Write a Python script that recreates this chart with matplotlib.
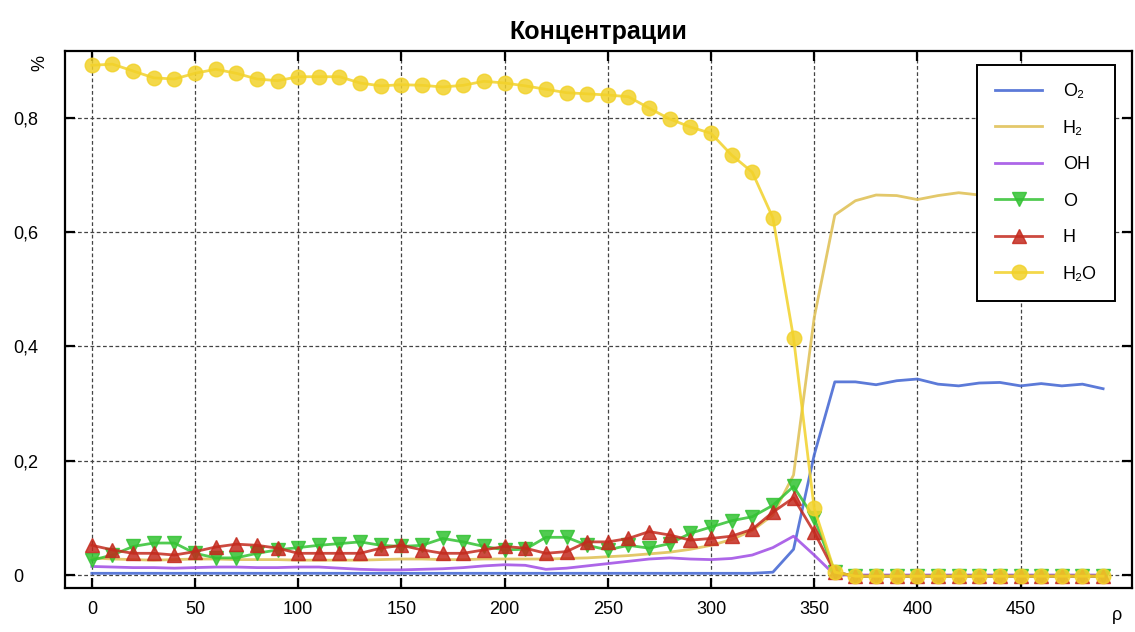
import matplotlib
matplotlib.use('Agg')
import matplotlib.pyplot as plt
from matplotlib.ticker import FixedLocator

plt.rcParams['font.family'] = ['Liberation Sans', 'DejaVu Sans']

# ── данные ────────────────────────────────────────────
rho = list(range(0, 500, 10))

o2 = [0.003] * 33 + [0.005, 0.045, 0.21, 0.338, 0.338, 0.333, 0.340, 0.343,
                     0.334, 0.331, 0.336, 0.337, 0.331, 0.335, 0.331, 0.334, 0.326]

h2 = [0.030, 0.028, 0.027, 0.026, 0.027, 0.028, 0.028, 0.027, 0.027, 0.027,
      0.026, 0.026, 0.026, 0.026, 0.027, 0.028, 0.028, 0.027, 0.027, 0.028,
      0.028, 0.028, 0.028, 0.029, 0.030, 0.032, 0.034, 0.037, 0.040, 0.045,
      0.052, 0.062, 0.078, 0.105, 0.175, 0.450, 0.630, 0.655, 0.665, 0.664,
      0.657, 0.664, 0.669, 0.665, 0.662, 0.665, 0.660, 0.662, 0.664, 0.660]

oh = [0.015, 0.014, 0.013, 0.013, 0.012, 0.013, 0.014, 0.014, 0.013, 0.013,
      0.014, 0.014, 0.012, 0.010, 0.009, 0.009, 0.010, 0.011, 0.013, 0.016,
      0.018, 0.017, 0.010, 0.012, 0.016, 0.020, 0.024, 0.028, 0.030, 0.028,
      0.027, 0.029, 0.035, 0.048, 0.068, 0.035, 0.000] + [0.0] * 13

o = [0.026, 0.035, 0.050, 0.056, 0.056, 0.038, 0.030, 0.030, 0.038, 0.044,
     0.048, 0.052, 0.055, 0.058, 0.052, 0.050, 0.052, 0.064, 0.058, 0.050,
     0.044, 0.045, 0.066, 0.066, 0.052, 0.044, 0.052, 0.047, 0.055, 0.073,
     0.084, 0.095, 0.102, 0.122, 0.155, 0.100, 0.005] + [-0.002] * 13

h = [0.052, 0.044, 0.038, 0.038, 0.035, 0.041, 0.049, 0.054, 0.052, 0.047,
     0.038, 0.038, 0.038, 0.038, 0.047, 0.052, 0.044, 0.038, 0.038, 0.044,
     0.050, 0.047, 0.038, 0.041, 0.058, 0.058, 0.064, 0.076, 0.070, 0.061,
     0.064, 0.068, 0.080, 0.110, 0.135, 0.075, 0.005] + [-0.002] * 13

h2o = [0.892, 0.894, 0.882, 0.870, 0.868, 0.878, 0.885, 0.878, 0.868, 0.865,
       0.872, 0.872, 0.872, 0.861, 0.856, 0.858, 0.857, 0.854, 0.857, 0.864,
       0.861, 0.856, 0.850, 0.844, 0.842, 0.840, 0.837, 0.817, 0.798, 0.784,
       0.773, 0.735, 0.705, 0.625, 0.415, 0.117, 0.005] + [-0.002] * 13

x_ticks = [0, 50, 100, 150, 200, 250, 300, 350, 400, 450]
y_ticks = [0, 0.2, 0.4, 0.6, 0.8]
y_labels = ['0', '0,2', '0,4', '0,6', '0,8']

# ── рисунок ───────────────────────────────────────────
W, H = 1135, 632
fig = plt.figure(figsize=(W / 100, H / 100), dpi=100)
ax = fig.add_axes([65 / W, 1 - 588 / H, (1132 - 65) / W, (588 - 51) / H])

ax.plot(rho, o2, color='#4a6cd4', lw=2, alpha=0.9, label='O₂')
ax.plot(rho, h2, color='#e0c25a', lw=2, alpha=0.9, label='H₂')
ax.plot(rho, oh, color='#a455e6', lw=2, alpha=0.9, label='OH')
ax.plot(rho, o, color='#33c233', lw=2, alpha=0.85, marker='v', ms=10,
        mec='#33c233', label='O')
ax.plot(rho, h, color='#c42a1e', lw=2, alpha=0.85, marker='^', ms=10,
        mec='#c42a1e', label='H')
ax.plot(rho, h2o, color='#f2d22a', lw=2, alpha=0.85, marker='o', ms=10.5,
        mec='#f2d22a', label='H₂O')

ax.set_xlim(-13, 504)
ax.set_ylim(-0.0227, 0.917)
ax.xaxis.set_major_locator(FixedLocator(x_ticks))
ax.set_yticks(y_ticks)
ax.set_yticklabels(y_labels, ha='left')

ax.grid(True, color='#444444', linestyle=(0, (3, 2)), lw=0.9)
for s in ax.spines.values():
    s.set_linewidth(1.6)
ax.tick_params(direction='in', length=7, width=1.6, top=True, right=True,
               labelsize=13, colors='black')
ax.tick_params(axis='x', pad=9)
ax.tick_params(axis='y', pad=37)

ax.text(0.986, -0.035, 'ρ', transform=ax.transAxes, ha='center', va='top',
        fontsize=13)
fig.text(40 / W, 1 - 63 / H, '%', rotation=90, ha='center', va='center',
         fontsize=13)
ax.set_title('Концентрации', fontsize=18, fontweight='bold', pad=9)

leg = ax.legend(loc='upper left', bbox_to_anchor=(977 / W, 1 - 65 / H),
                bbox_transform=fig.transFigure, borderaxespad=0,
                fancybox=False, framealpha=1, edgecolor='black',
                fontsize=13, handlelength=2.6, labelspacing=1.08,
                borderpad=1.0, handletextpad=1.16)
leg.get_frame().set_linewidth(1.4)

fig.savefig('out.png', dpi=100)
